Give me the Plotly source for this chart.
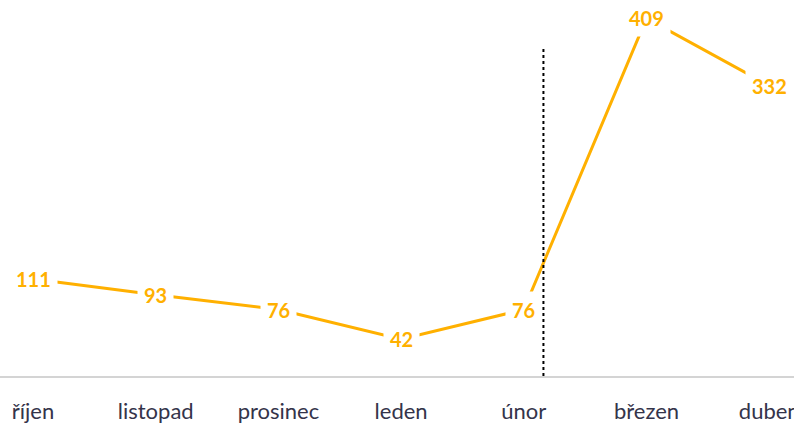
import plotly.graph_objects as go

months = ["říjen", "listopad", "prosinec", "leden", "únor", "březen", "duben"]
values = [111, 93, 76, 42, 76, 409, 332]
marker_pos = 4.16
marker_top = 375

color = "#FFB000"

fig = go.Figure()
fig.add_trace(go.Scatter(x=list(range(len(months))), y=values, mode="lines",
                         line=dict(color=color, width=3), hoverinfo="skip",
                         showlegend=False))

for i, v in enumerate(values):
    fig.add_annotation(x=i, y=v, xref="x", yref="y", text="<b>%d</b>" % v, showarrow=False,
                       bgcolor="white", borderpad=6,
                       font=dict(family="Lato", size=20, color=color))

fig.add_shape(type="line", x0=marker_pos, x1=marker_pos, y0=0, y1=marker_top,
              xref="x", yref="y", line=dict(color="black", width=2, dash="dot"))

fig.update_layout(
    width=794, height=426,
    margin=dict(l=0, r=0, t=0, b=50),
    paper_bgcolor="white", plot_bgcolor="white",
    xaxis=dict(tickmode="array", tickvals=list(range(len(months))), ticktext=months,
               range=[-0.269, 6.202], showgrid=False, zeroline=False,
               showline=True, linecolor="#d4d4d4", linewidth=2,
               ticks="", ticklabelstandoff=15, automargin=False,
               ticklabeloverflow="allow",
               tickfont=dict(family="Lato", size=22, color="#34344a")),
    yaxis=dict(range=[0, 430], visible=False, showgrid=False, zeroline=False),
)

fig.write_html("out.html", config={"displayModeBar": False},
               post_script="document.body.style.margin='0';")
